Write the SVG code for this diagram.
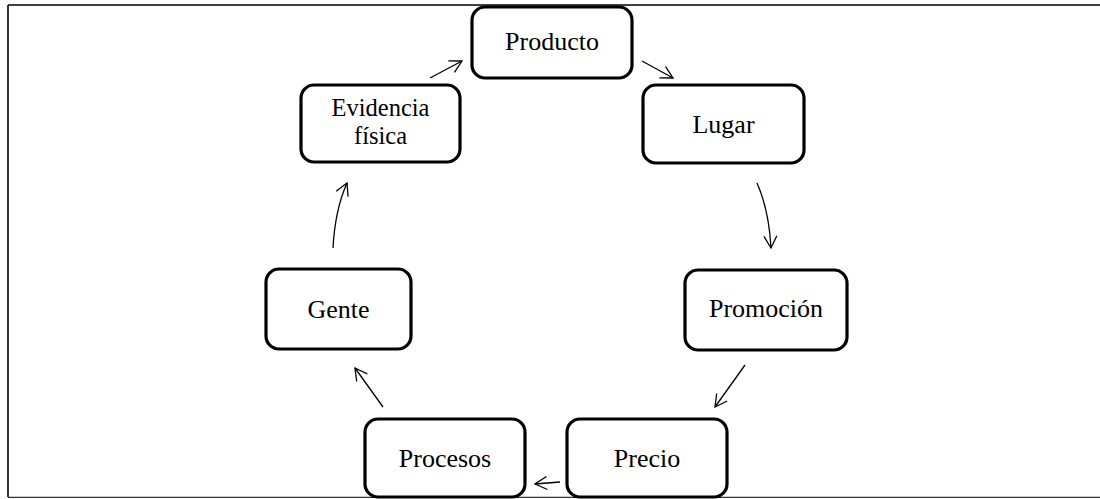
<svg xmlns="http://www.w3.org/2000/svg" width="1100" height="499" viewBox="0 0 1100 499">
<defs>
<style>
.box{fill:#fff;stroke:#000;stroke-width:3.2}
.lbl{font-family:"Liberation Serif","Times New Roman",serif;font-size:26px;fill:#000;text-anchor:middle}
.sm{font-size:24.5px}
.con{fill:none;stroke:#000;stroke-width:1.3}
.frame{stroke:#000;stroke-width:1.6;fill:none}
</style>
<marker id="ah" markerWidth="16" markerHeight="16" refX="14" refY="8" orient="auto" markerUnits="userSpaceOnUse">
<path d="M2,1.5 L14,8 L2,14.5" fill="none" stroke="#000" stroke-width="1.3"/>
</marker>
</defs>
<rect width="1100" height="499" fill="#fff"/>
<g id="frame">
<line class="frame" x1="8" y1="5" x2="1100" y2="5"/>
<line class="frame" x1="8" y1="5" x2="8" y2="497"/>
<line x1="8" y1="497.3" x2="1100" y2="497.3" stroke="#333" stroke-width="1.3"/>
</g>
<g id="connectors">
<line class="con" x1="430" y1="78" x2="462" y2="61" marker-end="url(#ah)"/>
<line class="con" x1="642" y1="61" x2="673" y2="78" marker-end="url(#ah)"/>
<path class="con" d="M757,183 Q769,210 771,248" marker-end="url(#ah)"/>
<line class="con" x1="745" y1="365" x2="715" y2="407" marker-end="url(#ah)"/>
<line class="con" x1="560" y1="482" x2="535" y2="484" marker-end="url(#ah)"/>
<line class="con" x1="383" y1="407" x2="355" y2="368" marker-end="url(#ah)"/>
<path class="con" d="M333,248 Q335,210 347,183" marker-end="url(#ah)"/>
</g>
<g id="producto"><rect class="box" x="472" y="7" width="160" height="71" rx="13"/><text class="lbl" x="552" y="50">Producto</text></g>
<g id="lugar"><rect class="box" x="643" y="85" width="161" height="78" rx="13"/><text class="lbl" x="723.5" y="133">Lugar</text></g>
<g id="evidencia"><rect class="box" x="301" y="85" width="159" height="77" rx="13"/><text class="lbl sm" x="380.5" y="116">Evidencia</text><text class="lbl sm" x="380.5" y="144">física</text></g>
<g id="gente"><rect class="box" x="266" y="269" width="145" height="80" rx="13"/><text class="lbl" x="338.5" y="318">Gente</text></g>
<g id="promocion"><rect class="box" x="685" y="270" width="162" height="80" rx="13"/><text class="lbl" x="766" y="317">Promoción</text></g>
<g id="procesos"><rect class="box" x="365" y="419" width="160" height="78" rx="13"/><text class="lbl" x="445" y="467">Procesos</text></g>
<g id="precio"><rect class="box" x="567" y="419" width="160" height="78" rx="13"/><text class="lbl" x="647" y="467">Precio</text></g>
</svg>
